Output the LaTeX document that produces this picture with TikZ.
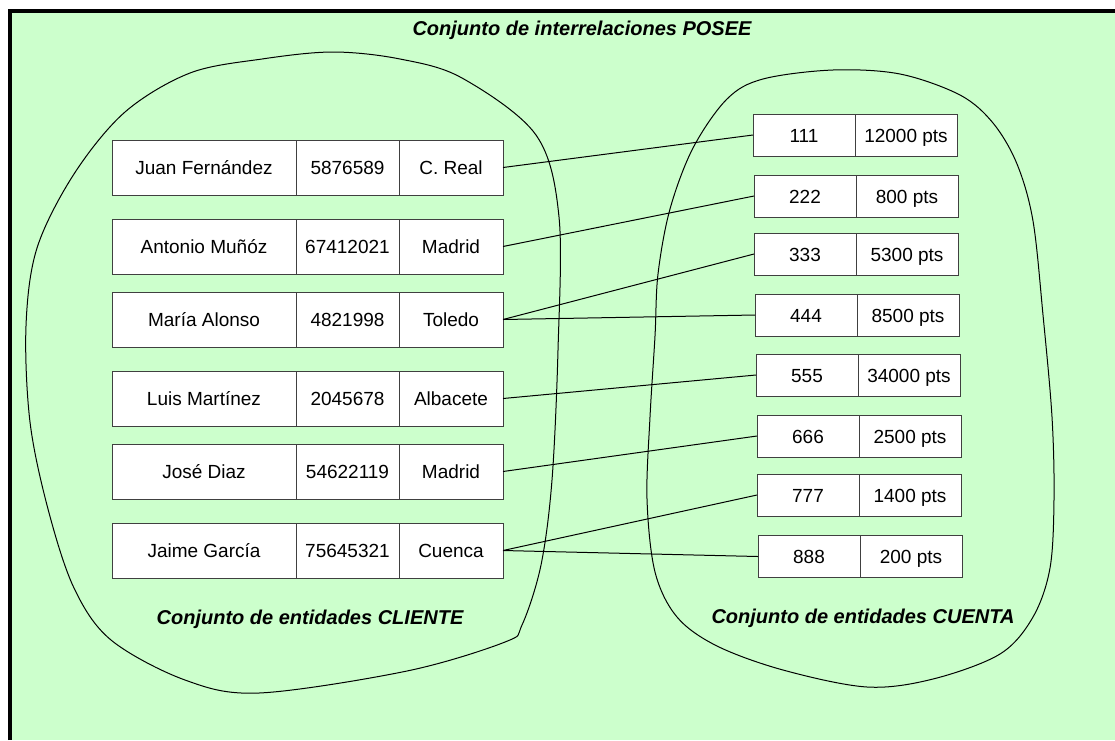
\documentclass[tikz,border=0pt]{standalone}
\usepackage{fontspec}
\setmainfont{Liberation Sans}
\usepackage{tikz}
\usetikzlibrary{positioning}
\definecolor{fondo}{HTML}{CCFFCC}
\tikzset{
  celda/.style={draw=black!75, fill=white, rectangle, inner sep=0pt, outer sep=0pt,
    minimum height=55pt, text height=14pt, text depth=0pt,
    font=\fontsize{19}{22}\selectfont},
  nombre/.style={celda, minimum width=184pt},
  dni/.style={celda, minimum width=103pt},
  ciudad/.style={celda, minimum width=104pt},
  cuenta/.style={celda, minimum width=102pt, minimum height=42pt},
  rotulo/.style={font=\fontsize{20}{24}\selectfont\bfseries\itshape},
}

\begin{document}
\begin{tikzpicture}[x=1pt, y=-1pt, line width=1pt]
  \useasboundingbox (0,0) rectangle (1115,740);

  % Fondo y marco
  \fill[fondo] (9.5,11.3) rectangle (1115,740);
  \draw[line width=4pt] (9.5,740) -- (9.5,11.3) -- (1115,11.3);

  % Conjuntos
  \draw plot[smooth cycle, tension=0.55] coordinates {
    (190,73) (262,59) (333,52) (400,59) (462,78) (536,135) (559,217)
    (558,350) (552,480) (541,565) (522,625) (505,642) (407,671) (259,693)
    (185,680) (111,640) (74,588) (48,509) (30,422) (26,326) (37,248)
    (74,174) (125,112)};
  \draw plot[smooth cycle, tension=0.55] coordinates {
    (763,79) (833,70) (900,74) (960,95) (993,123) (1017,164) (1033,221)
    (1043,315) (1052,417) (1054,499) (1050,568) (1033,617) (1000,654)
    (933,679) (867,687) (783,670) (717,646) (677,617) (655,572) (647,499)
    (650,417) (655,336) (658,274) (670,209) (693,148) (727,99)};

  % Rotulos
  \node[rotulo] (titulo) at (582,30) {Conjunto de interrelaciones POSEE};
  \node[rotulo] (clientes) at (310,619) {Conjunto de entidades CLIENTE};
  \node[rotulo] (cuentas) at (863,618) {Conjunto de entidades CUENTA};

  % Clientes
  \node[nombre] (n1) at (204,167.5) {Juan Fernández};
  \node[dni, right=0pt of n1] (d1) {5876589};
  \node[ciudad, right=0pt of d1] (c1) {C. Real};

  \node[nombre] (n2) at (204,246.5) {Antonio Muñóz};
  \node[dni, right=0pt of n2] (d2) {67412021};
  \node[ciudad, right=0pt of d2] (c2) {Madrid};

  \node[nombre] (n3) at (204,319.5) {María Alonso};
  \node[dni, right=0pt of n3] (d3) {4821998};
  \node[ciudad, right=0pt of d3] (c3) {Toledo};

  \node[nombre] (n4) at (204,398.5) {Luis Martínez};
  \node[dni, right=0pt of n4] (d4) {2045678};
  \node[ciudad, right=0pt of d4] (c4) {Albacete};

  \node[nombre] (n5) at (204,471.5) {José Diaz};
  \node[dni, right=0pt of n5] (d5) {54622119};
  \node[ciudad, right=0pt of d5] (c5) {Madrid};

  \node[nombre] (n6) at (204,550.5) {Jaime García};
  \node[dni, right=0pt of n6] (d6) {75645321};
  \node[ciudad, right=0pt of d6] (c6) {Cuenca};

  % Cuentas
  \node[cuenta] (k1) at (804,135) {111};
  \node[cuenta, right=0pt of k1] (s1) {12000 pts};
  \node[cuenta] (k2) at (805,196) {222};
  \node[cuenta, right=0pt of k2] (s2) {800 pts};
  \node[cuenta] (k3) at (805,254) {333};
  \node[cuenta, right=0pt of k3] (s3) {5300 pts};
  \node[cuenta] (k4) at (806,315) {444};
  \node[cuenta, right=0pt of k4] (s4) {8500 pts};
  \node[cuenta] (k5) at (807,375) {555};
  \node[cuenta, right=0pt of k5] (s5) {34000 pts};
  \node[cuenta] (k6) at (808,436) {666};
  \node[cuenta, right=0pt of k6] (s6) {2500 pts};
  \node[cuenta] (k7) at (808,495) {777};
  \node[cuenta, right=0pt of k7] (s7) {1400 pts};
  \node[cuenta] (k8) at (809,556.5) {888};
  \node[cuenta, right=0pt of k8] (s8) {200 pts};

  % Interrelaciones POSEE
  \draw (c1.east) -- (k1.west);
  \draw (c2.east) -- (k2.west);
  \draw (c3.east) -- (k3.west);
  \draw (c3.east) -- (k4.west);
  \draw (c4.east) -- (k5.west);
  \draw (c5.east) -- (k6.west);
  \draw (c6.east) -- (k7.west);
  \draw (c6.east) -- (k8.west);
\end{tikzpicture}
\end{document}
